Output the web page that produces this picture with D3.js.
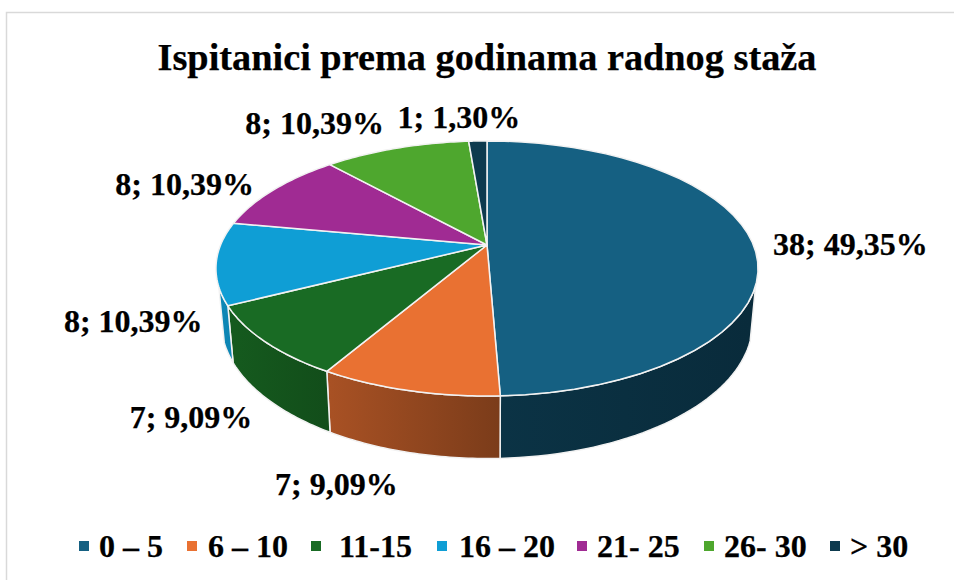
<!DOCTYPE html>
<html>
<head>
<meta charset="utf-8">
<script src="https://cdn.jsdelivr.net/npm/d3@7"></script>
<style>
  html, body { margin: 0; padding: 0; background: #fff; }
  svg { display: block; }
  text { font-family: "Liberation Serif", serif; font-weight: bold; fill: #000; stroke: #000; stroke-width: 0.25; }
</style>
</head>
<body>
<div id="chart"></div>
<script>
const categories = ["0 – 5", "6 – 10", "11-15", "16 – 20", "21- 25", "26- 30", "> 30"];
const counts = [38, 7, 7, 8, 8, 8, 1];
const percentLabels = ["49,35%", "9,09%", "9,09%", "10,39%", "10,39%", "10,39%", "1,30%"];
const colors = ["#156082", "#e97132", "#196b24", "#0f9ed5", "#a02b93", "#4ea72e", "#0d3a4e"];

const width = 954;
const height = 580;
const title = "Ispitanici prema godinama radnog staža";

// label shift from the rim point at the middle of each slice
const labelShift = [[98, 3], [-72, 94], [-74, 76], [-83, 59], [-89, -5], [-82, -24], [-19, -23]];
const legendX = [79, 187, 311, 437, 577, 704, 830];
const legendTextX = [99, 208, 339, 459, 597, 724, 850];

const svg = d3.select("#chart").append("svg")
    .attr("width", width)
    .attr("height", height);

// perspective tilt of the pie, top rim and lower rim
const tilt = 0.184;
const topRim = { cx: 487, cy: 245, rx: 266.4, ry: 123.2 };
const lowRim = { cx: 487, cy: 298, rx: 261, ry: 131 };

function project(rim, a) {
    const w = 1 + tilt * Math.cos(a);
    return [rim.cx + rim.rx * Math.sin(a) / w, rim.cy - rim.ry * Math.cos(a) / w];
}

function rimPoints(rim, a0, a1) {
    return d3.range(41).map(i => project(rim, a0 + (a1 - a0) * i / 40));
}

const pie = d3.pie().sort(null).value(d => d);
const slices = pie(counts);
const line = d3.line();

// side walls show only between these angles
const sideStart = 108 * Math.PI / 180;
const sideEnd = 251.3 * Math.PI / 180;

// side walls get darker going right
const sideShade = d3.scaleLinear()
    .domain([225, 330, 500, 560])
    .range([0.85, 0.72, 0.53, 0.45])
    .clamp(true);

const defs = svg.append("defs");

svg.append("rect")
    .attr("x", 6.5).attr("y", 12.5)
    .attr("width", width).attr("height", height)
    .attr("fill", "#fff")
    .attr("stroke", "#d9d9d9")
    .attr("stroke-width", 1.5);

svg.append("text")
    .attr("x", 487).attr("y", 70)
    .attr("text-anchor", "middle")
    .attr("font-size", 38.3)
    .text(title);

const sides = slices
    .map((d, i) => ({ a0: Math.max(d.startAngle, sideStart), a1: Math.min(d.endAngle, sideEnd), i }))
    .filter(d => d.a1 > d.a0);

function shaded(hex, k) {
    const c = d3.rgb(hex);
    return d3.rgb(c.r * k, c.g * k, c.b * k);
}

sides.forEach(d => {
    const xa = project(lowRim, d.a1)[0];
    const xb = project(lowRim, d.a0)[0];
    const x0 = Math.min(xa, xb);
    const x1 = Math.max(xa, xb);
    const grad = defs.append("linearGradient")
        .attr("id", "side" + d.i)
        .attr("gradientUnits", "userSpaceOnUse")
        .attr("x1", x0).attr("x2", x1)
        .attr("y1", 0).attr("y2", 0);
    grad.append("stop").attr("offset", 0).attr("stop-color", shaded(colors[d.i], sideShade(x0)));
    grad.append("stop").attr("offset", 1).attr("stop-color", shaded(colors[d.i], sideShade(x1)));
});

svg.append("g").selectAll("path")
    .data(sides)
    .join("path")
    .attr("d", d => line(rimPoints(topRim, d.a0, d.a1).concat(rimPoints(lowRim, d.a1, d.a0))) + "Z")
    .attr("fill", d => "url(#side" + d.i + ")")
    .attr("stroke", "#f2f2f2")
    .attr("stroke-width", 1.5)
    .attr("stroke-linejoin", "round");

// top face
svg.append("g").selectAll("path")
    .data(slices)
    .join("path")
    .attr("d", d => line([[topRim.cx, topRim.cy]].concat(rimPoints(topRim, d.startAngle, d.endAngle))) + "Z")
    .attr("fill", (d, i) => colors[i])
    .attr("stroke", "#f2f2f2")
    .attr("stroke-width", 1.5)
    .attr("stroke-linejoin", "round");

// data labels
svg.append("g").selectAll("text")
    .data(slices)
    .join("text")
    .attr("x", (d, i) => project(topRim, (d.startAngle + d.endAngle) / 2)[0] + labelShift[i][0])
    .attr("y", (d, i) => project(topRim, (d.startAngle + d.endAngle) / 2)[1] + labelShift[i][1] + 10)
    .attr("text-anchor", "middle")
    .attr("font-size", 32)
    .text((d, i) => counts[i] + "; " + percentLabels[i]);

// legend
const legend = svg.append("g").selectAll("g")
    .data(categories)
    .join("g");

legend.append("rect")
    .attr("x", (d, i) => legendX[i])
    .attr("y", 541).attr("width", 10).attr("height", 10)
    .attr("fill", (d, i) => colors[i]);

legend.append("text")
    .attr("x", (d, i) => legendTextX[i]).attr("y", 557)
    .attr("font-size", 32)
    .text(d => d);
</script>
</body>
</html>
